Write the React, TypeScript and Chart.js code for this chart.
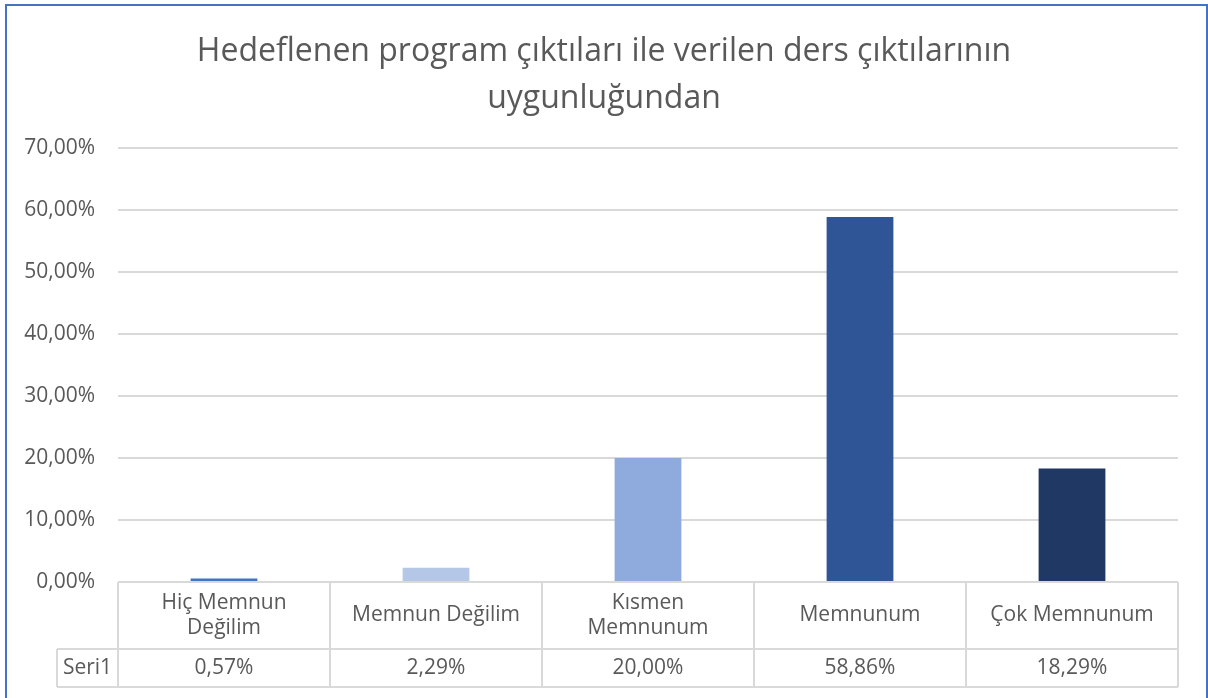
import React, { useEffect, useRef } from "react";
import { Chart, registerables } from "chart.js";

Chart.register(...registerables);

const titleLines = [
  "Hedeflenen program çıktıları ile verilen ders çıktılarının",
  "uygunluğundan",
];
const categories = [
  ["Hiç Memnun", "Değilim"],
  ["Memnun Değilim"],
  ["Kısmen", "Memnunum"],
  ["Memnunum"],
  ["Çok Memnunum"],
];
const seriesName = "Seri1";
const values = [0.57, 2.29, 20.0, 58.86, 18.29];
const barColors = ["#4472C4", "#B4C7E7", "#8FAADC", "#2F5597", "#203864"];
const yMax = 70;
const yStep = 10;

const FONT = '"Open Sans", "Noto Sans", sans-serif';
const TEXT = "#595959";
const GRID = "#D9D9D9";

const fmt = (v: number) => v.toFixed(2).replace(".", ",") + "%";

const framePlugin = {
  id: "frameTable",
  beforeDraw(chart: any) {
    const ctx = chart.ctx;
    ctx.save();
    ctx.fillStyle = "#ffffff";
    ctx.fillRect(0, 0, chart.width, chart.height);
    ctx.restore();
  },
  afterDraw(chart: any) {
    const ctx = chart.ctx;
    const xs = chart.scales.x;
    const area = chart.chartArea;
    ctx.save();
    // outer border
    ctx.strokeStyle = "#4472C4";
    ctx.lineWidth = 2;
    ctx.strokeRect(6, 5, 1201, 720);

    // title
    ctx.fillStyle = TEXT;
    ctx.font = `32px ${FONT}`;
    ctx.textAlign = "center";
    ctx.textBaseline = "alphabetic";
    titleLines.forEach((t, i) => ctx.fillText(t, 604, 61 + i * 47));

    // data table
    const n = categories.length;
    const w = (xs.right - xs.left) / n;
    const top = area.bottom;
    const mid = top + 67;
    const bot = top + 105;
    const headLeft = 57;
    ctx.strokeStyle = GRID;
    ctx.lineWidth = 2;
    ctx.beginPath();
    ctx.moveTo(xs.left, top);
    ctx.lineTo(xs.right, top);
    ctx.moveTo(headLeft, mid);
    ctx.lineTo(xs.right, mid);
    ctx.moveTo(headLeft, bot);
    ctx.lineTo(xs.right, bot);
    ctx.moveTo(headLeft, mid);
    ctx.lineTo(headLeft, bot);
    for (let i = 0; i <= n; i++) {
      const x = xs.left + i * w;
      ctx.moveTo(x, top);
      ctx.lineTo(x, bot);
    }
    ctx.stroke();

    ctx.fillStyle = TEXT;
    ctx.font = `21px ${FONT}`;
    ctx.textAlign = "center";
    ctx.textBaseline = "middle";
    categories.forEach((lines, i) => {
      const cx = xs.getPixelForValue(i);
      const cy = (top + mid) / 2;
      const lh = 25;
      lines.forEach((l, j) => {
        ctx.fillText(l, cx, cy + (j - (lines.length - 1) / 2) * lh);
      });
      ctx.fillText(fmt(values[i]), cx, (mid + bot) / 2);
    });
    ctx.fillText(seriesName, (headLeft + xs.left) / 2, (mid + bot) / 2);
    ctx.restore();
  },
};

export default function App() {
  const ref = useRef<HTMLCanvasElement | null>(null);
  useEffect(() => {
    document.body.style.margin = "0";
    const chart = new Chart(ref.current as HTMLCanvasElement, {
      type: "bar",
      data: {
        labels: categories.map((c) => c.join(" ")),
        datasets: [
          {
            label: seriesName,
            data: values,
            backgroundColor: barColors,
            borderWidth: 0,
            barPercentage: 0.315,
            categoryPercentage: 1,
          },
        ],
      },
      options: {
        animation: false,
        responsive: false,
        devicePixelRatio: 1,
        layout: { padding: { left: 0, right: 30, top: 148, bottom: 116 } },
        plugins: {
          legend: { display: false },
          title: { display: false },
          tooltip: { enabled: false },
        },
        scales: {
          x: {
            afterFit: (s: any) => {
              s.height = 0;
            },
            grid: { display: false },
            border: { display: false },
            ticks: { display: false },
          },
          y: {
            min: 0,
            max: yMax,
            afterFit: (s: any) => {
              s.width = 118;
            },
            border: { display: false },
            grid: { color: GRID, lineWidth: 2, drawTicks: false },
            ticks: {
              stepSize: yStep,
              padding: 23,
              color: TEXT,
              font: { family: FONT, size: 21 },
              callback: (v: any) => fmt(Number(v)),
            },
          },
        },
      },
      plugins: [framePlugin],
    });
    return () => chart.destroy();
  }, []);
  return (
    <div style={{ position: "fixed", left: 0, top: 0, width: 1208, height: 698 }}>
      <canvas ref={ref} width={1208} height={698} style={{ width: 1208, height: 698 }} />
    </div>
  );
}
